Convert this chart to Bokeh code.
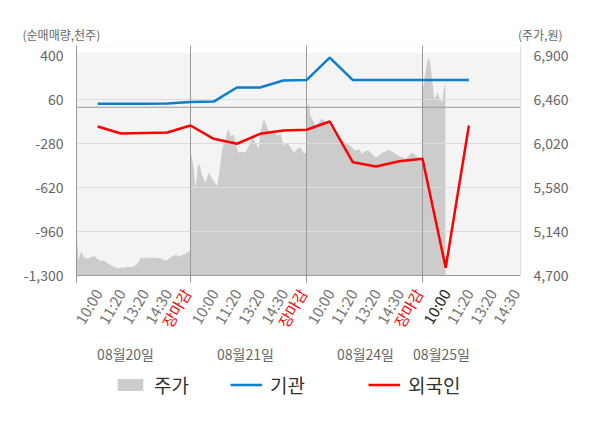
import math
from bokeh.plotting import figure
from bokeh.layouts import column
from bokeh.models import (Range1d, LinearAxis, FixedTicker, NumeralTickFormatter, Span,
                          BoxAnnotation, ColumnDataSource, Legend, LegendItem)
from bokeh.embed import file_html
from bokeh.resources import INLINE
from bokeh.core.properties import value

FONT = "Noto Sans CJK KR"

# ---------------- data ----------------
days = ["08월20일", "08월21일", "08월24일", "08월25일"]
day_label_pos = [0.44, 1.474, 2.509, 3.164]
slots = ["10:00", "11:20", "13:20", "14:30", "장마감"]
current_slot = (3, 0)  # 08월25일 10:00

# 순매매량 (천주) at each slot
inst = [27, 27, 27, 29, 41, 44, 153, 153, 207, 210, 384, 210, 210, 210, 210, 210, 210]
foreign = [-149, -203, -199, -195, -141, -244, -282, -205, -180, -174,
           -110, -425, -458, -417, -398, -1240, -141]

flow_ticks = [-1300, -960, -620, -280, 60, 400]
price_ticks = [4700, 5140, 5580, 6020, 6460, 6900]

# 주가 (원), time in day units
d1_t = [0.0172, 0.023, 0.0345, 0.046, 0.060, 0.080, 0.109, 0.138, 0.172, 0.195,
        0.224, 0.253, 0.282, 0.310, 0.339, 0.368, 0.397, 0.425, 0.454, 0.483,
        0.511, 0.540, 0.569, 0.578, 0.592, 0.612, 0.641, 0.670, 0.698, 0.727,
        0.756, 0.784, 0.813, 0.842, 0.871, 0.899, 0.928, 0.957, 0.986, 1.0]
d1_v = [5064, 5064, 4847, 4897, 4937, 4880, 4870, 4877, 4897, 4864,
        4847, 4847, 4824, 4804, 4790, 4770, 4777, 4777, 4784, 4784,
        4790, 4814, 4864, 4890, 4864, 4880, 4874, 4880, 4874, 4874,
        4864, 4847, 4870, 4890, 4904, 4890, 4904, 4917, 4940, 4947]
d2_t = [1.0, 1.009, 1.029, 1.043, 1.063, 1.078, 1.101, 1.129, 1.158, 1.187,
        1.230, 1.244, 1.259, 1.273, 1.302, 1.325, 1.345, 1.374, 1.388, 1.411,
        1.445, 1.474, 1.503, 1.532, 1.560, 1.589, 1.603, 1.632, 1.661, 1.690,
        1.718, 1.747, 1.776, 1.805, 1.833, 1.862, 1.891, 1.920, 1.948, 1.977, 2.0]
d2_v = [5897, 5897, 5764, 5564, 5797, 5814, 5697, 5630, 5730, 5664,
        5597, 5697, 5830, 5964, 6064, 6164, 6097, 6104, 6030, 5930,
        5937, 5930, 5997, 6080, 6030, 5964, 6130, 6264, 6180, 6114,
        6147, 6097, 6114, 5997, 6030, 5980, 5930, 5964, 5980, 5924, 5924]
d3_t = [2.0, 2.006, 2.020, 2.034, 2.049, 2.063, 2.078, 2.106, 2.135, 2.164,
        2.193, 2.221, 2.250, 2.279, 2.307, 2.336, 2.365, 2.394, 2.422, 2.451,
        2.480, 2.509, 2.537, 2.566, 2.595, 2.624, 2.652, 2.681, 2.710, 2.739,
        2.767, 2.796, 2.825, 2.853, 2.882, 2.911, 2.940, 2.968, 3.0]
d3_v = [6300, 6364, 6430, 6297, 6264, 6230, 6197, 6230, 6270, 6230,
        6214, 6164, 6114, 6080, 6047, 6030, 6004, 5980, 5947, 5964,
        5914, 5947, 5947, 5914, 5880, 5897, 5930, 5937, 5957, 5937,
        5914, 5897, 5880, 5864, 5897, 5930, 5897, 5880, 5870]
d4_t = [3.0, 3.011, 3.026, 3.040, 3.055, 3.069, 3.083, 3.098, 3.112, 3.126,
        3.141, 3.155, 3.170, 3.184, 3.198]
d4_v = [6600, 6597, 6730, 6830, 6880, 6797, 6664, 6497, 6464, 6530,
        6497, 6447, 6430, 6564, 6614]

# ---------------- layout constants ----------------
W, H = 592, 420
TOP_H = 45
PX_PER_DAY = 116
LEFT, RIGHT = 76, 72
FRAME_W, FRAME_H = 444, 230
BOTTOM = 10
BOT_TOP = TOP_H + FRAME_H + BOTTOM      # page y where the bottom strip starts
BOT_H = H - BOT_TOP

x0 = 2 / PX_PER_DAY
x1 = x0 + FRAME_W / PX_PER_DAY
flow_lo = flow_ticks[0]
flow_hi = flow_lo + FRAME_H * (flow_ticks[1] - flow_ticks[0]) / 44
price_lo = price_ticks[0]
price_hi = price_lo + FRAME_H * (price_ticks[1] - price_ticks[0]) / 44

COMMON = dict(output_backend="svg", toolbar_location=None, tools="", frame_align=False)

# ---------------- top strip: unit titles ----------------
p_top = figure(frame_width=W, frame_height=TOP_H, min_border=0,
               x_range=Range1d(0, W), y_range=Range1d(TOP_H, 0),
               x_axis_location=None, y_axis_location=None, **COMMON)
p_top.grid.visible = False
p_top.outline_line_color = None
p_top.text(x=[22], y=[33.5], text=["(순매매량,천주)"], text_align="left",
           text_baseline="middle", text_font=value(FONT), text_font_size="12px",
           text_color="#666666")
p_top.text(x=[562], y=[33.5], text=["(주가,원)"], text_align="right",
           text_baseline="middle", text_font=value(FONT), text_font_size="12px",
           text_color="#666666")

# ---------------- main chart ----------------
p = figure(frame_width=FRAME_W, frame_height=FRAME_H,
           min_border_left=LEFT, min_border_right=RIGHT, min_border_top=0,
           min_border_bottom=BOTTOM,
           x_range=Range1d(x0, x1), y_range=Range1d(flow_lo, flow_hi), **COMMON)
p.extra_y_ranges = {"price": Range1d(price_lo, price_hi)}
p.background_fill_color = "#f4f4f4"
p.border_fill_color = "white"
p.outline_line_color = None

# white strip above the plotting band
p.add_layout(BoxAnnotation(bottom=423, fill_color="white", fill_alpha=1.0,
                           line_color=None, level="image"))

p.xgrid.visible = False
p.ygrid.ticker = FixedTicker(ticks=flow_ticks[1:-1])
p.ygrid.grid_line_color = "#dcdcdc"
p.ygrid.grid_line_width = 1

price_t = d1_t + d2_t + d3_t + d4_t
price_v = d1_v + d2_v + d3_v + d4_v
area = p.varea(x=price_t, y1=price_lo, y2=price_v, y_range_name="price",
               fill_color="#cccccc", level="image")

p.add_layout(Span(location=0, dimension="width", line_color="#999999",
                  line_width=1, level="underlay"))
for d in range(1, len(days)):
    p.add_layout(Span(location=d, dimension="height", line_color="#999999",
                      line_width=1, level="underlay"))

flow_x = [i // len(slots) + (i % len(slots) + 1) / len(slots) for i in range(len(inst))]
BLUE, RED, GRAY = "#0a7fcc", "#ff0000", "#cccccc"
p.line(flow_x, inst, line_color=BLUE, line_width=2.5)
p.line(flow_x, foreign, line_color=RED, line_width=2.5)

ax = p.yaxis[0]
ax.ticker = FixedTicker(ticks=flow_ticks)
ax.formatter = NumeralTickFormatter(format="0,0")
ax.major_tick_line_color = None
ax.minor_tick_line_color = None
ax.axis_line_color = "#999999"
ax.major_label_text_font = FONT
ax.major_label_text_font_size = "14px"
ax.major_label_text_color = "#666666"
ax.major_label_standoff = 7

rax = LinearAxis(y_range_name="price", ticker=FixedTicker(ticks=price_ticks),
                 formatter=NumeralTickFormatter(format="0,0"))
rax.major_tick_line_color = None
rax.minor_tick_line_color = None
rax.axis_line_color = "#dddddd"
rax.major_label_text_font = FONT
rax.major_label_text_font_size = "14px"
rax.major_label_text_color = "#666666"
rax.major_label_standoff = 7
p.add_layout(rax, "right")

bx = p.xaxis[0]
bx.ticker = FixedTicker(ticks=[], minor_ticks=[x0] + list(range(1, len(days))))
bx.major_tick_line_color = None
bx.major_tick_out = 0
bx.major_tick_in = 0
bx.major_label_standoff = 0
bx.minor_tick_line_color = "#999999"
bx.minor_tick_out = 7
bx.minor_tick_in = 0
bx.axis_line_color = "#999999"

# ---------------- bottom strip: slot labels, day labels, legend ----------------
p_bot = figure(frame_width=W, frame_height=BOT_H, min_border=0,
               x_range=Range1d(x0 - LEFT / PX_PER_DAY, x0 + (W - LEFT) / PX_PER_DAY),
               y_range=Range1d(BOT_H, 0),
               x_axis_location=None, y_axis_location=None, **COMMON)
p_bot.grid.visible = False
p_bot.outline_line_color = None

lx, lt, lc, ldx = [], [], [], []
for d in range(len(days)):
    for k, s in enumerate(slots):
        xx = d + (k + 1) / len(slots)
        if xx > x1:
            continue
        lx.append(xx)
        lt.append(s)
        if s == "장마감":
            lc.append(RED)
            ldx.append(-4)
        elif (d, k) == current_slot:
            lc.append("#222222")
            ldx.append(0)
        else:
            lc.append("#777777")
            ldx.append(0)
src = ColumnDataSource(dict(x=lx, y=[289.5 - BOT_TOP] * len(lx), text=lt, color=lc, dx=ldx))
p_bot.text(x="x", y="y", text="text", source=src, angle=math.pi / 3, x_offset="dx",
           text_align="right", text_baseline="middle", text_color="color",
           text_font=value(FONT), text_font_size="15px")

p_bot.text(x=day_label_pos, y=[353 - BOT_TOP] * len(days), text=days, text_align="center",
           text_baseline="middle", text_font=value(FONT), text_font_size="14px",
           text_color="#666666")

# legend swatches (same styles as the chart series; no visible data)
nan = float("nan")
g_area = p_bot.varea(x=[nan, nan], y1=[nan, nan], y2=[nan, nan], fill_color=GRAY)
g_inst = p_bot.line(x=[nan, nan], y=[nan, nan], line_color=BLUE, line_width=2.5)
g_for = p_bot.line(x=[nan, nan], y=[nan, nan], line_color=RED, line_width=2.5)
legend_y = BOT_H - (378 - BOT_TOP) - 20
for r, lab, lxpos in [(g_area, "주가", 114), (g_inst, "기관", 230), (g_for, "외국인", 368)]:
    lg = Legend(items=[LegendItem(label=value(lab), renderers=[r])],
                location=(lxpos, legend_y), orientation="horizontal",
                glyph_width=32, glyph_height=15, label_standoff=8,
                padding=0, margin=0, border_line_color=None, background_fill_alpha=0,
                label_text_font=FONT, label_text_font_size="19px",
                label_text_color="#333333")
    p_bot.add_layout(lg)

layout = column(p_top, p, p_bot, spacing=0)
open("out.html", "w").write(file_html(layout, INLINE))
